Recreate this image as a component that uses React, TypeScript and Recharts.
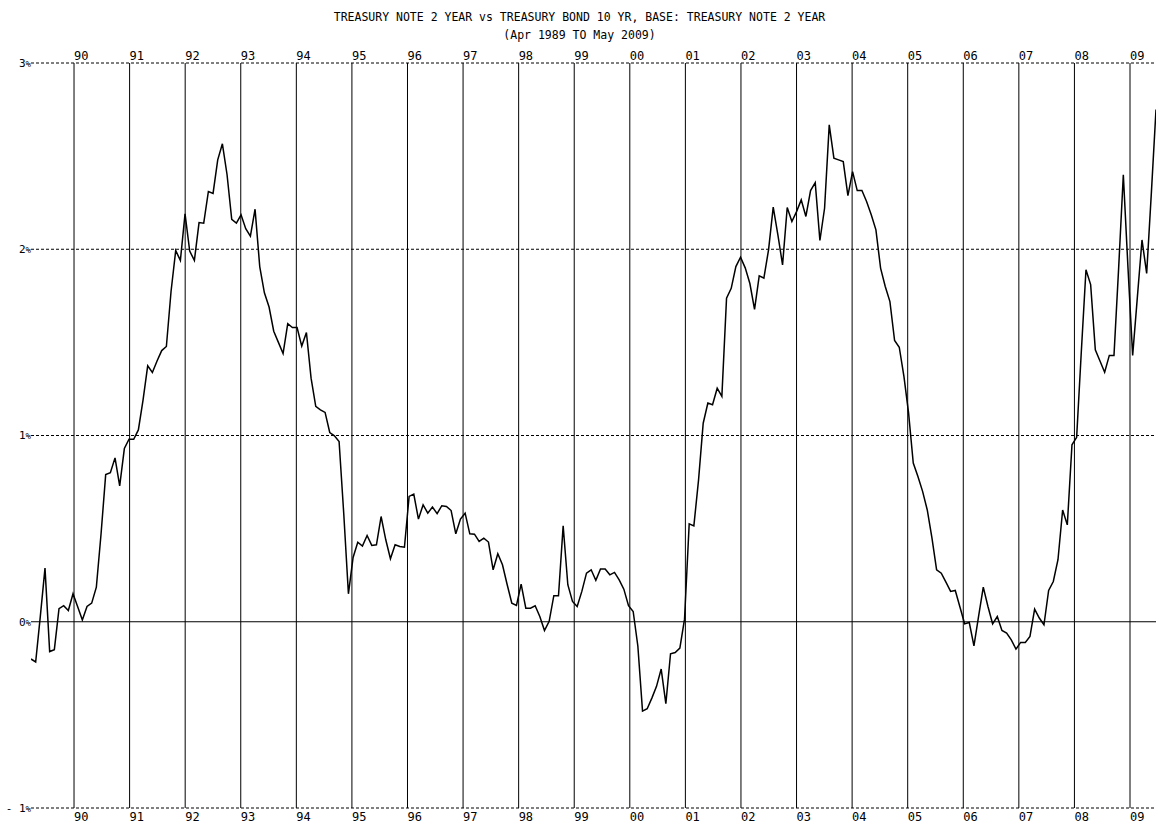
import React from 'react';
import { LineChart, Line, XAxis, YAxis, ReferenceLine } from 'recharts';

const TITLE = 'TREASURY NOTE 2 YEAR vs TREASURY BOND 10 YR, BASE: TREASURY NOTE 2 YEAR';
const SUBTITLE = '(Apr 1989 TO May 2009)';

const YEARS = [1990, 1991, 1992, 1993, 1994, 1995, 1996, 1997, 1998, 1999, 2000, 2001, 2002, 2003, 2004, 2005, 2006, 2007, 2008, 2009];
const Y_TICKS = [-1, 0, 1, 2, 3];
const DASHED_LEVELS = [-1, 1, 2, 3];

// first observation (Apr 1989) and spacing of observations, in decimal years
const X_START = 1989.226;
const X_STEP = 0.08399;

// spread 10Y - 2Y, percent, Apr 1989 .. May 2009
const SPREAD = [
  -0.2, -0.216, 0.03, 0.288, -0.16, -0.15, 0.07, 0.086, 0.06, 0.15,
  0.08, 0.01, 0.082, 0.1, 0.186, 0.47, 0.79, 0.8, 0.88, 0.73,
  0.93, 0.98, 0.98, 1.03, 1.19, 1.374, 1.338, 1.4, 1.456, 1.478,
  1.773, 1.993, 1.94, 2.19, 1.99, 1.94, 2.143, 2.14, 2.31, 2.3,
  2.48, 2.566, 2.4, 2.16, 2.14, 2.185, 2.11, 2.07, 2.215, 1.907,
  1.766, 1.69, 1.56, 1.5, 1.44, 1.6, 1.58, 1.58, 1.48, 1.553,
  1.308, 1.156, 1.138, 1.124, 1.016, 0.998, 0.968, 0.58, 0.15, 0.345,
  0.427, 0.406, 0.463, 0.41, 0.413, 0.565, 0.44, 0.338, 0.413, 0.404,
  0.4, 0.673, 0.685, 0.551, 0.628, 0.583, 0.616, 0.58, 0.623, 0.619,
  0.597, 0.472, 0.551, 0.583, 0.472, 0.47, 0.431, 0.449, 0.428, 0.279,
  0.365, 0.306, 0.2, 0.1, 0.088, 0.202, 0.073, 0.073, 0.086, 0.028,
  -0.047, 0.002, 0.14, 0.14, 0.515, 0.199, 0.109, 0.082, 0.163, 0.261,
  0.279, 0.222, 0.283, 0.283, 0.252, 0.265, 0.225, 0.175, 0.086, 0.055,
  -0.13, -0.48, -0.467, -0.41, -0.347, -0.254, -0.44, -0.172, -0.165, -0.141,
  0.014, 0.526, 0.515, 0.76, 1.066, 1.174, 1.165, 1.254, 1.21, 1.737,
  1.79, 1.907, 1.957, 1.9, 1.816, 1.677, 1.857, 1.845, 1.997, 2.226,
  2.077, 1.916, 2.224, 2.149, 2.202, 2.265, 2.176, 2.315, 2.358, 2.047,
  2.22, 2.668, 2.489, 2.48, 2.471, 2.288, 2.417, 2.315, 2.315, 2.256,
  2.185, 2.104, 1.899, 1.8, 1.719, 1.51, 1.474, 1.317, 1.12, 0.852,
  0.78, 0.7, 0.6, 0.45, 0.279, 0.261, 0.213, 0.163, 0.168, 0.079,
  -0.011, -0.004, -0.129, 0.03, 0.186, 0.082, -0.011, 0.028, -0.047, -0.061,
  -0.097, -0.147, -0.111, -0.111, -0.079, 0.068, 0.02, -0.016, 0.168, 0.216,
  0.333, 0.6, 0.52, 0.95, 0.99, 1.45, 1.89, 1.81, 1.46, 1.4,
  1.34, 1.43, 1.43, 1.9, 2.4, 1.9, 1.43, 1.74, 2.05, 1.87,
  2.3, 2.75,
];

const data = SPREAD.map((v, i) => ({ x: X_START + i * X_STEP, v }));
const X_END = X_START + (SPREAD.length - 1) * X_STEP;

const FONT = '"DejaVu Sans Mono", "Liberation Mono", monospace';

const yearLabel = (y: number) => String(y % 100).padStart(2, '0');

const TopTick = (props: any) => (
  <text x={props.x} y={props.y} textAnchor="start" fontFamily={FONT} fontSize={12} fill="#000">
    {yearLabel(props.payload.value)}
  </text>
);

const BottomTick = (props: any) => (
  <text x={props.x} y={props.y} dy="0.71em" textAnchor="start" fontFamily={FONT} fontSize={12} fill="#000">
    {yearLabel(props.payload.value)}
  </text>
);

const LeftTick = (props: any) => {
  const v = props.payload.value;
  return (
    <text x={props.x} y={props.y} dy="0.35em" textAnchor="end" fontFamily={FONT} fontSize={11} fill="#000">
      {v < 0 ? '- ' + Math.abs(v) : String(v)}
      <tspan fontSize={9}>%</tspan>
    </text>
  );
};

export default function App() {
  return (
    <div style={{ position: 'absolute', left: 0, top: 0, width: 1159, height: 827, background: '#fff' }}>
      <div style={{ position: 'absolute', left: 0, top: 8, width: 1159, textAlign: 'center', fontFamily: FONT, fontSize: 11.5, lineHeight: '18px', color: '#000', whiteSpace: 'pre' }}>
        {TITLE}
        <br />
        {SUBTITLE}
      </div>
      <LineChart width={1159} height={827} data={data} margin={{ top: 49, right: 3, bottom: 5, left: 0 }}>
        <XAxis
          xAxisId="top"
          orientation="top"
          type="number"
          dataKey="x"
          domain={[X_START, X_END]}
          ticks={YEARS}
          height={14}
          axisLine={false}
          tickLine={false}
          tickSize={2}
          tickMargin={1}
          tick={<TopTick />}
          allowDataOverflow
        />
        <XAxis
          xAxisId="bottom"
          orientation="bottom"
          type="number"
          dataKey="x"
          domain={[X_START, X_END]}
          ticks={YEARS}
          height={14}
          axisLine={false}
          tickLine={false}
          tickSize={2}
          tickMargin={2}
          tick={<BottomTick />}
          allowDataOverflow
        />
        <YAxis
          type="number"
          domain={[-1, 3]}
          ticks={Y_TICKS}
          width={31}
          axisLine={false}
          tickLine={false}
          tickSize={0}
          tickMargin={0}
          tick={<LeftTick />}
          allowDataOverflow
        />
        {DASHED_LEVELS.map((lv) => (
          <ReferenceLine key={'h' + lv} y={lv} xAxisId="bottom" stroke="#000" strokeWidth={1} strokeDasharray="3 2" />
        ))}
        <ReferenceLine y={0} xAxisId="bottom" stroke="#000" strokeWidth={1} />
        {YEARS.map((yr) => (
          <ReferenceLine key={'v' + yr} x={yr} xAxisId="bottom" stroke="#000" strokeWidth={1} />
        ))}
        <Line
          xAxisId="bottom"
          type="linear"
          dataKey="v"
          stroke="#000"
          strokeWidth={1.5}
          dot={false}
          isAnimationActive={false}
        />
      </LineChart>
    </div>
  );
}
